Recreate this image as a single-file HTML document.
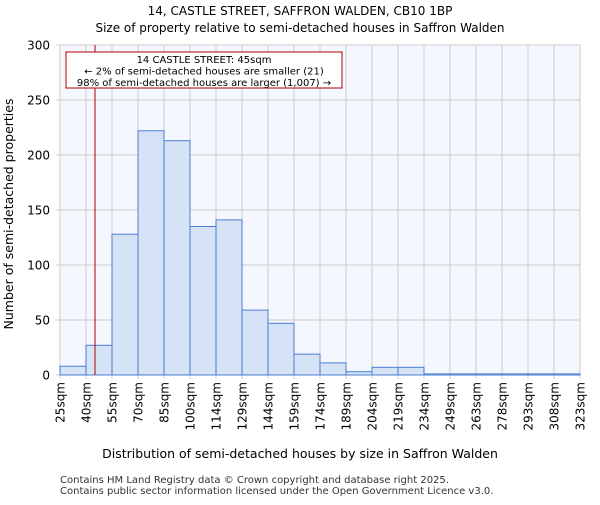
<!DOCTYPE html>
<html><head><meta charset="utf-8"><style>
body{margin:0;background:#fff;font-family:"Liberation Sans","DejaVu Sans",sans-serif;}
text{font-family:"DejaVu Sans","Liberation Sans",sans-serif;}
</style></head><body>
<svg id="chart" width="600" height="500">
<text x="300" y="15" text-anchor="middle" font-size="12">14, CASTLE STREET, SAFFRON WALDEN, CB10 1BP</text>
<text x="300" y="32" text-anchor="middle" font-size="12">Size of property relative to semi-detached houses in Saffron Walden</text>
<rect x="60" y="45" width="520" height="330" fill="#f4f7fe"/>
<g id="grid"></g><g id="bars"></g><g id="axes"></g>
<line x1="95" y1="45" x2="95" y2="375" stroke="#b00000" stroke-width="1"/>
<rect x="66" y="52" width="276" height="36" fill="#fff" stroke="#b00000"/>
<text x="204" y="63" text-anchor="middle" font-size="10">14 CASTLE STREET: 45sqm</text>
<text x="204" y="74.5" text-anchor="middle" font-size="10">← 2% of semi-detached houses are smaller (21)</text>
<text x="204" y="86" text-anchor="middle" font-size="10">98% of semi-detached houses are larger (1,007) →</text>
<text x="300" y="458" text-anchor="middle" font-size="12.5">Distribution of semi-detached houses by size in Saffron Walden</text>
<text transform="translate(13,214) rotate(-90)" text-anchor="middle" font-size="12.5">Number of semi-detached properties</text>
<text x="60" y="483" font-size="10" fill="#333">Contains HM Land Registry data © Crown copyright and database right 2025.</text>
<text x="60" y="494" font-size="10" fill="#333">Contains public sector information licensed under the Open Government Licence v3.0.</text>
</svg>
<script>
const categories=["25sqm","40sqm","55sqm","70sqm","85sqm","100sqm","114sqm","129sqm","144sqm","159sqm","174sqm","189sqm","204sqm","219sqm","234sqm","249sqm","263sqm","278sqm","293sqm","308sqm","323sqm"];
const counts=[8,27,128,222,213,135,141,59,47,19,11,3,7,7,1,1,1,1,1,1];
const yTicks=[0,50,100,150,200,250,300];
const NS="http://www.w3.org/2000/svg";
const x0=60,x1=580,y0=375,y1=45,yMax=300;
const bw=(x1-x0)/counts.length;
const xs=i=>x0+i*bw;
const ys=v=>y0-(v/yMax)*(y0-y1);
function mk(t,a,p){const e=document.createElementNS(NS,t);for(const k in a)e.setAttribute(k,a[k]);p.appendChild(e);return e;}
const grid=document.getElementById('grid'),bars=document.getElementById('bars'),axes=document.getElementById('axes');
categories.forEach((c,i)=>{
 const g=mk('line',{x1:xs(i),x2:xs(i),y1:y1,y2:y0+4,stroke:'#cccccc'},grid);
 
 
 const t=mk('text',{transform:`translate(${xs(i)+4.5},382) rotate(-90)`,'text-anchor':'end','font-size':'12'},axes);
 t.textContent=c;
 
 
});
yTicks.forEach(v=>{
 const g=mk('line',{x1:x0-4,x2:x1,y1:ys(v),y2:ys(v),stroke:'#cccccc'},grid);
 
 
 const t=mk('text',{x:50,y:ys(v)+4.5,'text-anchor':'end','font-size':'12'},axes);
 t.textContent=v;
 
 
});
counts.forEach((v,i)=>{
 const r=mk('rect',{x:xs(i),y:ys(v),width:bw,height:y0-ys(v),fill:'#d6e2f5',stroke:'#4a7fd4','stroke-width':1},bars);
 
 
});
</script>
</body></html>
